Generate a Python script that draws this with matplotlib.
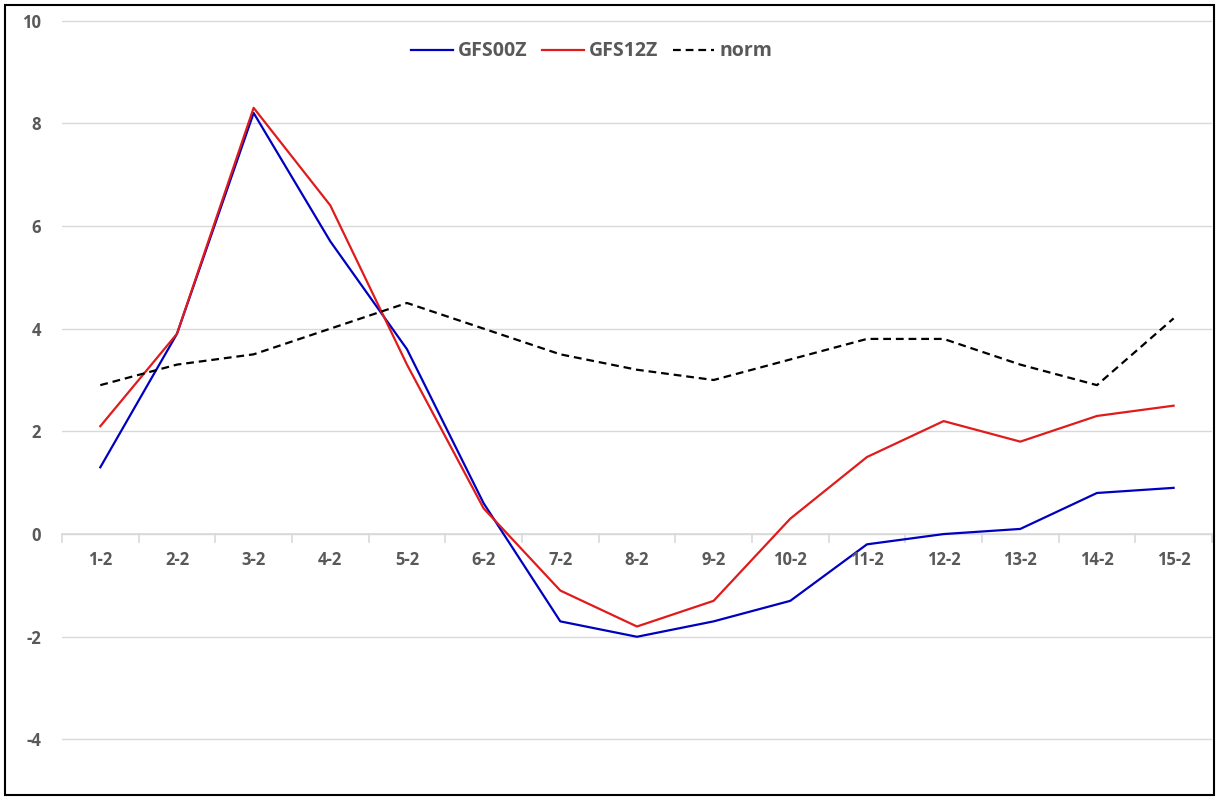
import matplotlib.pyplot as plt

days = ["1-2", "2-2", "3-2", "4-2", "5-2", "6-2", "7-2", "8-2",
        "9-2", "10-2", "11-2", "12-2", "13-2", "14-2", "15-2"]
gfs00 = [1.3, 3.9, 8.2, 5.7, 3.6, 0.6, -1.7, -2.0, -1.7, -1.3, -0.2, 0.0, 0.1, 0.8, 0.9]
gfs12 = [2.1, 3.9, 8.3, 6.4, 3.3, 0.5, -1.1, -1.8, -1.3, 0.3, 1.5, 2.2, 1.8, 2.3, 2.5]
norm = [2.9, 3.3, 3.5, 4.0, 4.5, 4.0, 3.5, 3.2, 3.0, 3.4, 3.8, 3.8, 3.3, 2.9, 4.2]

plt.rcParams['font.family'] = ['Open Sans', 'DejaVu Sans']
txt = "#595959"
grid = "#d9d9d9"

fig = plt.figure(figsize=(12.2, 7.98), dpi=100)
ax = fig.add_axes([0.0508, 0.0714, 0.9426, 0.9048])

x = list(range(len(days)))
ax.plot(x, gfs00, color="#0000c0", lw=1.6, label="GFS00Z")
ax.plot(x, gfs12, color="#e01b1b", lw=1.6, label="GFS12Z")
ax.plot(x, norm, color="black", lw=1.6, ls=(0, (3.5, 2.2)), label="norm")

ax.set_ylim(-4.03, 10.03)
ax.set_xlim(-0.5, len(days) - 0.5)
ax.set_yticks(range(-4, 11, 2))
ax.set_yticklabels([str(v) for v in range(-4, 11, 2)], fontsize=12, fontweight="bold", color=txt)
ax.tick_params(axis="y", length=0, pad=15)
ax.grid(axis="y", color=grid, lw=1)
ax.set_axisbelow(True)

# category axis drawn at y = 0
ax.set_xticks([])
ax.axhline(0, color=grid, lw=1.2, zorder=1)
for i in range(len(days) + 1):
    ax.plot([i - 0.5, i - 0.5], [0, -0.155], color=grid, lw=1.2, clip_on=False, zorder=1)
for i, d in enumerate(days):
    ax.text(i, -0.5, d, ha="center", va="center", fontsize=12,
            fontweight="bold", color=txt)

for s in ax.spines.values():
    s.set_visible(False)

leg = ax.legend(loc="center", bbox_to_anchor=(0.4605, 0.955), ncol=3, frameon=False,
                fontsize=14, handlelength=2.15, columnspacing=0.75, handletextpad=0.25)
for t in leg.get_texts():
    t.set_color(txt)
    t.set_fontweight("bold")

# outer frame
fig.patches.append(plt.Rectangle((0.004, 0.004), 0.991, 0.99, transform=fig.transFigure,
                                 fill=False, edgecolor="black", lw=1.5))

fig.savefig("out.png", dpi=100)
